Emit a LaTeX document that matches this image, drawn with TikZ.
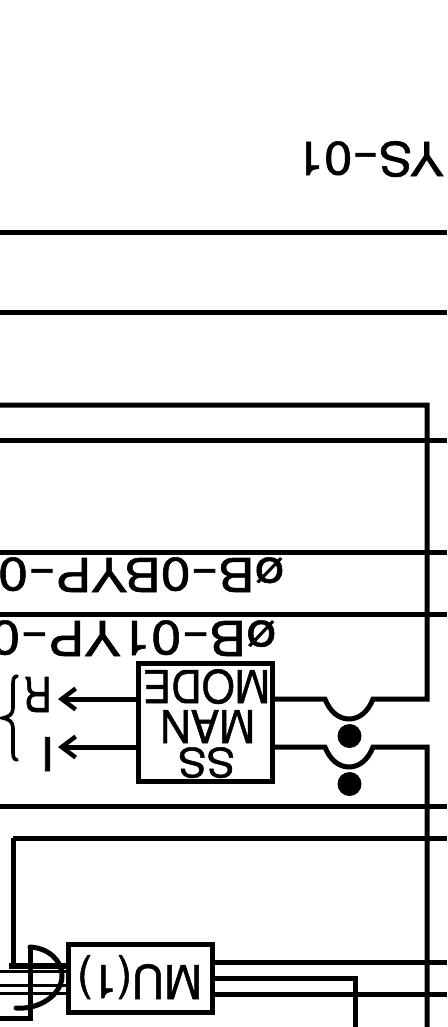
\documentclass[tikz,border=0pt]{standalone}
\usepackage{fontspec}
\usepackage{graphicx}
\setmainfont[FakeBold=1.1]{TeX Gyre Heros}
\usetikzlibrary{arrows.meta}
\newcommand{\fitto}[3]{\resizebox{#1pt}{#2pt}{#3}}
\newcommand{\longhy}{\scalebox{1.6}[1]{-}}
\tikzset{
  wire/.style={line width=5pt,line cap=butt,line join=miter,black},
  thinwire/.style={line width=3.6pt,black},
  upside/.style={rotate=180,anchor=base west,inner sep=0pt,outer sep=0pt,text=black},
  boxed/.style={draw=black,line width=5pt,fill=white,inner sep=0pt,outer sep=0pt,anchor=north west},
  dot/.style={circle,fill=black,inner sep=0pt,outer sep=0pt,minimum size=24pt},
  openhead/.style={-{Straight Barb[length=14pt,width=21pt,line width=4.4pt]}}
}
\begin{document}
\begin{tikzpicture}[x=1pt,y=-1pt]
\useasboundingbox (0,0) rectangle (447,1027);
\clip (0,0) rectangle (447,1027);
\fill[white] (0,0) rectangle (447,1027);

% long horizontal rails
\coordinate (L1) at (0,232);   \coordinate (R1) at (447,232);
\coordinate (L2) at (0,312);   \coordinate (R2) at (447,312);
\coordinate (L3) at (0,440);   \coordinate (R3) at (447,440);
\coordinate (L4) at (0,552.5); \coordinate (R4) at (447,552.5);
\coordinate (L5) at (0,614);   \coordinate (R5) at (447,614);
\coordinate (L6) at (0,806);   \coordinate (R6) at (447,806);
\coordinate (L7) at (13,838);  \coordinate (R7) at (447,838);
\foreach \n in {1,2,3,4,5,6}{\draw[wire] (L\n) -- (R\n);}

% boxes
\node[boxed,minimum width=134pt,minimum height=118pt] (modebox) at (138,663) {};
\node[boxed,minimum width=144pt,minimum height=68pt] (mubox) at (68,944) {};

% wire from top of the switch around to the left
\coordinate (topL) at (0,405);
\coordinate (topR) at (427,405);
\coordinate (sw1a) at (325,699);
\coordinate (sw1b) at (373,699);
\coordinate (sw2a) at (325,747);
\coordinate (sw2b) at (373,747);
\coordinate (downEnd) at (427,1027);
\draw[wire] (topL) -- (topR) -- (427,699) -- (sw1b)
   .. controls (368,712) and (359,719) .. (349,719)
   .. controls (339,719) and (330,712) .. (sw1a) -- (modebox.east |- sw1a);
\draw[wire] (modebox.east |- sw2a) -- (sw2a)
   .. controls (330,760) and (339,767) .. (349,767)
   .. controls (359,767) and (368,760) .. (sw2b) -- (427,747) -- (downEnd);
\node[dot] (dot1) at (349.5,736) {};
\node[dot] (dot2) at (349.5,784) {};

% outputs of the mode box
\coordinate (arR) at (58,699);
\coordinate (arI) at (58,747);
\draw[wire,openhead] (modebox.west |- arR) -- (arR);
\draw[wire,openhead] (modebox.west |- arI) -- (arI);

% brace
\coordinate (brTop) at (17,676);
\coordinate (brBot) at (17,760);
\coordinate (brTip) at (3,718);
\draw[thinwire,line cap=round] (brTop) .. controls (13,677) and (13,680) .. (13,686)
  -- (13,708) .. controls (13,714) and (9,717) .. (brTip)
  .. controls (9,719) and (13,722) .. (13,728)
  -- (13,750) .. controls (13,756) and (13,759) .. (brBot);

% rail with the MU box
\draw[wire] (L7) -- (R7);
\draw[wire] (L7) -- (13,965);
\draw[wire,line width=6pt] (9,966) -- (mubox.west |- 0,966);
\coordinate (ml2) at (0,971);
\coordinate (ml3) at (0,985);
\coordinate (ml4) at (0,993);
\draw[line width=3pt] (ml2) -- (mubox.west |- ml2);
\draw[line width=3pt] (ml3) -- (mubox.west |- ml3);
\draw[line width=3pt] (ml4) -- (mubox.west |- ml4);
\draw[wire] (mubox.east |- 0,962) -- (447,962);
\draw[wire] (mubox.east |- 0,978) -- (355,978) -- (355,1027);
\draw[wire] (mubox.east |- 0,994) -- (447,994);

% gate outline left of the MU box
\draw[wire] (0,1018) -- (30,1018) -- (30,947);
\draw[wire,line cap=round] (30,947) .. controls (48,948) and (62,960) .. (62,976)
   .. controls (62,994) and (40,1010) .. (16,1008);

\node[upside] (ys) at (444,142) {\fitto{148}{35}{YS\longhy01}};
\node[upside] (tag1) at (284,558) {\fitto{286}{34}{øB\longhy0BYP\longhy0}};
\node[upside] (tag2) at (276,621) {\fitto{286}{35}{øB\longhy01YP\longhy0}};
\node[upside] (mode) at (270,670) {\fitto{127}{34}{MODE}};
\node[upside] (man) at (255,710) {\fitto{95}{33}{MAN}};
\node[upside] (ss) at (235,748) {\fitto{57}{30}{SS}};
\node[upside] (rl) at (52,677) {\fitto{28}{35}{R}};
\node[upside] (il) at (55,737) {\fitto{14}{34}{I}};
\node[upside] (mu) at (202,965) {\fitto{125}{34}{MU(1)}};
\end{tikzpicture}
\end{document}
